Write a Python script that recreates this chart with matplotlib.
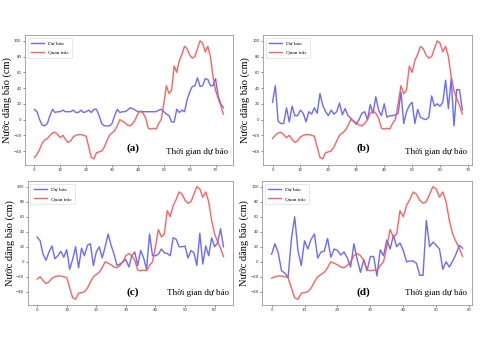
import matplotlib.pyplot as plt

# quan trac (same observed series, each panel starts 5 steps later)
quan_trac = [-48, -44, -38, -30, -26, -24, -20, -17, -16, -19,
             -23, -20, -25, -29, -27, -22, -20, -19, -19, -20,
             -21, -35, -48, -50, -42, -41, -40, -35, -27, -20,
             -17, -14, -8, 0, -2, -4, -7, -8, -5, 0,
             8, 11, 8, 2, -11, -12, -11, -12, -5, 0,
             20, 43, 33, 37, 68, 60, 75, 83, 93, 90,
             82, 78, 80, 90, 100, 97, 86, 93, 80, 55,
             37, 27, 18, 7]
offsets = [0, 5, 10, 15]

du_bao_a = [13, 10, 0, -7, -8, -5, 5, 13, 9, 10,
            10, 12, 10, 10, 10, 12, 9, 9, 12, 9,
            10, 12, 9, 13, 13, 5, -5, -8, -8, -8,
            -5, 5, 13, 9, 10, 10, 12, 15, 14, 12,
            10, 10, 10, 10, 10, 10, 10, 10, 12, 13,
            10, 7, 5, -3, -3, 13, 9, 12, 10, 25,
            35, 42, 43, 53, 42, 43, 52, 51, 43, 43,
            52, 30, 20, 15]
du_bao_b = [22, 43, -2, -5, -5, 15, -3, 17, 5, 5,
            12, 8, -3, 10, 7, 15, 8, 33, 18, 10,
            5, 12, 7, 10, 21, 6, 14, 5, 2, -2,
            -6, 0, 8, 10, 0, 19, 8, 29, 12, 5,
            20, 3, 5, 5, 6, 8, 35, -5, 10, 18,
            22, -5, 13, 3, 1, 0, 3, 30, 17, 20,
            17, 22, 50, 14, 52, -8, 38, 38, 12]
du_bao_c = [33, 28, 10, 2, 13, 21, 4, 8, 14, 6,
            16, -10, 3, 20, -8, 18, 8, 22, 24, -5,
            13, 20, 5, 20, 37, 22, 10, -5, -3, 0,
            3, -7, 8, 13, -5, 15, 5, -10, 37, 8,
            8, 10, 17, 12, 11, 8, 32, 30, 20, 20,
            21, 5, 15, 12, -5, 38, -3, 21, 8, 32,
            20, 25, 44, 20]
du_bao_d = [10, 24, 12, -12, -15, -21, 30, 60, 15, -5,
            28, 17, 30, 37, 5, 13, 14, 31, 6, 17,
            15, 9, 13, 5, -7, 24, 3, -14, 3, -12,
            7, 7, -19, 16, 8, 29, 17, 35, 20, 25,
            15, 0, 1, 1, -2, -18, -18, 55, 20, 26,
            22, 17, -10, 0, -7, 1, 10, 22, 18]

du_bao = [du_bao_a, du_bao_b, du_bao_c, du_bao_d]
nhan = ['(a)', '(b)', '(c)', '(d)']

# vi tri cac o [left, bottom, width, height]
vi_tri = [[0.052, 0.542, 0.433, 0.361],
          [0.548, 0.542, 0.435, 0.361],
          [0.058, 0.153, 0.427, 0.344],
          [0.546, 0.153, 0.4375, 0.344]]
nhan_xy = [(0.52, 0.13), (0.48, 0.13), (0.51, 0.10), (0.48, 0.10)]

serif = ['Liberation Serif', 'DejaVu Serif']

fig = plt.figure(figsize=(4.8, 3.6), dpi=100)

for i in range(4):
    ax = fig.add_axes(vi_tri[i])
    y_db = du_bao[i]
    y_qt = quan_trac[offsets[i]:]
    ax.plot(range(len(y_db)), y_db, color='#5a5aff', lw=1.0, alpha=0.9, label='Dự báo')
    ax.plot(range(len(y_qt)), y_qt, color='#ff5050', lw=1.0, alpha=0.9, label='Quan trắc')
    ax.set_yticks([-40, -20, 0, 20, 40, 60, 80, 100])
    ax.set_xticks(range(0, len(y_qt) + 3, 10))
    ax.tick_params(labelsize=2.8, length=1.5, width=0.4, pad=1, colors='#333333')
    for s in ax.spines.values():
        s.set_color('#999999')
        s.set_linewidth(0.6)
    ax.set_ylabel('Nước dâng bão (cm)', fontsize=7.5, family=serif)
    ax.yaxis.set_label_coords(-0.062, 0.5)
    leg = ax.legend(loc='upper left', prop={'family': serif, 'size': 3.8},
                    handlelength=2.5, borderpad=0.6, labelspacing=0.9, fancybox=False)
    leg.get_frame().set_linewidth(0.4)
    ax.text(nhan_xy[i][0], nhan_xy[i][1], nhan[i], transform=ax.transAxes,
            fontsize=8, fontweight='bold', family=serif, ha='center', va='center')
    ax.text(0.83, 0.1, 'Thời gian dự báo', transform=ax.transAxes,
            fontsize=6.5, family=serif, ha='center', va='center')

plt.savefig('out.png', dpi=100)
